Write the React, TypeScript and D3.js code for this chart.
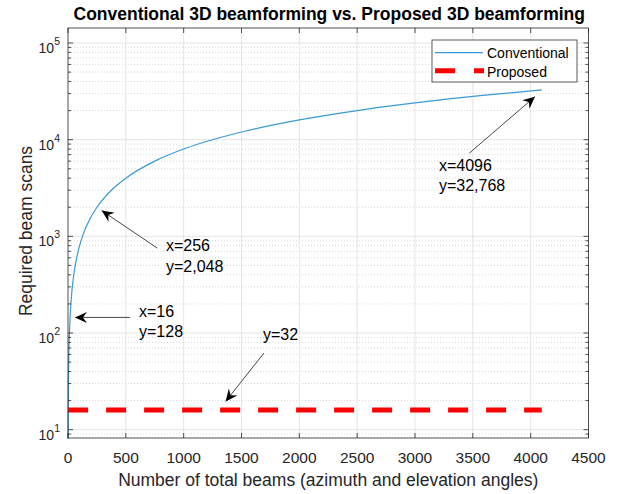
import { useEffect, useRef } from "react";
import * as d3 from "d3";

// values
const convBeams = [1, 2, 4, 8, 16, 32, 48, 64, 96, 128, 192, 256, 384, 512, 768, 1024, 1536, 2048, 2560, 3072, 3584, 4096];
const convScans = [8, 16, 32, 64, 128, 256, 384, 512, 768, 1024, 1536, 2048, 3072, 4096, 6144, 8192, 12288, 16384, 20480, 24576, 28672, 32768];
const propBeams = [1, 4096];
const propScans = [16, 16];

const xTicks = [0, 500, 1000, 1500, 2000, 2500, 3000, 3500, 4000, 4500];
const yExponents = [1, 2, 3, 4, 5];

const legendLabels = ["Conventional", "Proposed"];

// annotation arrows: tip / tail / text anchor in data units
const notes = [
  { tip: [291, 1849], tail: [772, 755], at: [847, 697], lines: ["x=256", "y=2,048"] },
  { tip: [60, 145], tail: [536, 145], at: [614, 148], lines: ["x=16", "y=128"] },
  { tip: [1363, 19.6], tail: [1694, 62], at: [1686, 85], lines: ["y=32"] },
  { tip: [4037, 27860], tail: [3469, 7244], at: [3207, 4786], lines: ["x=4096", "y=32,768"] },
];

const W = 622;
const H = 494;
const m = { l: 68, r: 33.5, t: 28, b: 56 };
const FONT = "'Liberation Sans', Arial, Helvetica, sans-serif";
const AX = "#262626";

const App = () => {
  const svgRef = useRef(null);

  useEffect(() => {
    const svg = d3.select(svgRef.current);
    svg.selectAll("*").remove();

    const x0 = m.l, x1 = W - m.r, y0 = H - m.b, y1 = m.t;
    const xScale = d3.scaleLinear().domain([0, 4500]).range([x0, x1]);
    const yScale = d3.scaleLog().domain([8.2, 1.43e5]).range([y0, y1]);

    svg.append("rect").attr("x", x0).attr("y", y1).attr("width", x1 - x0).attr("height", y0 - y1).attr("fill", "white");

    // minor grid (dotted)
    const minors: number[] = [];
    for (let d = 0; d <= 5; d++)
      for (let k = 2; k <= 9; k++) {
        const v = k * Math.pow(10, d);
        if (v > 8.2 && v < 1.43e5) minors.push(v);
      }
    const grid = svg.append("g");
    grid.selectAll(".mg").data(minors).join("line")
      .attr("x1", x0).attr("x2", x1)
      .attr("y1", (d) => yScale(d)).attr("y2", (d) => yScale(d))
      .attr("stroke", "#c8c8c8").attr("stroke-width", 0.7).attr("stroke-dasharray", "1 2");
    // major grid
    grid.selectAll(".gy").data(yExponents).join("line")
      .attr("x1", x0).attr("x2", x1)
      .attr("y1", (d) => yScale(Math.pow(10, d))).attr("y2", (d) => yScale(Math.pow(10, d)))
      .attr("stroke", "#dedede").attr("stroke-width", 0.8);
    grid.selectAll(".gx").data(xTicks.slice(1, -1)).join("line")
      .attr("x1", (d) => xScale(d)).attr("x2", (d) => xScale(d))
      .attr("y1", y0).attr("y2", y1)
      .attr("stroke", "#dedede").attr("stroke-width", 0.8);

    // series
    const line = d3.line<number>()
      .x((d, i) => xScale(convBeams[i]))
      .y((d) => yScale(d))
      .curve(d3.curveMonotoneX);
    svg.append("path").attr("d", line(convScans))
      .attr("fill", "none").attr("stroke", "#3a9ad6").attr("stroke-width", 1.2);

    const pline = d3.line<number>()
      .x((d, i) => xScale(propBeams[i]))
      .y((d) => yScale(d));
    svg.append("path").attr("d", pline(propScans))
      .attr("fill", "none").attr("stroke", "#ff0000").attr("stroke-width", 5)
      .attr("stroke-dasharray", "20 18");

    // axes box + ticks
    const ax = svg.append("g").attr("stroke", AX).attr("stroke-width", 0.8);
    ax.append("rect").attr("x", x0).attr("y", y1).attr("width", x1 - x0).attr("height", y0 - y1).attr("fill", "none");
    xTicks.forEach((t) => {
      const px = xScale(t);
      ax.append("line").attr("x1", px).attr("x2", px).attr("y1", y0).attr("y2", y0 - 5);
      ax.append("line").attr("x1", px).attr("x2", px).attr("y1", y1).attr("y2", y1 + 5);
    });
    yExponents.forEach((e) => {
      const py = yScale(Math.pow(10, e));
      ax.append("line").attr("x1", x0).attr("x2", x0 + 5).attr("y1", py).attr("y2", py);
      ax.append("line").attr("x1", x1).attr("x2", x1 - 5).attr("y1", py).attr("y2", py);
    });
    minors.forEach((v) => {
      const py = yScale(v);
      ax.append("line").attr("x1", x0).attr("x2", x0 + 3).attr("y1", py).attr("y2", py);
      ax.append("line").attr("x1", x1).attr("x2", x1 - 3).attr("y1", py).attr("y2", py);
    });

    // tick labels
    svg.append("g").selectAll("text").data(xTicks).join("text")
      .attr("x", (d) => xScale(d)).attr("y", y0 + 25)
      .attr("text-anchor", "middle").attr("font-family", FONT).attr("font-size", 15.5).attr("fill", AX)
      .text((d) => d);
    const yl = svg.append("g").selectAll("text").data(yExponents).join("text")
      .attr("x", x0 - 8).attr("y", (d) => yScale(Math.pow(10, d)) + 10)
      .attr("text-anchor", "end").attr("font-family", FONT).attr("font-size", 14).attr("fill", AX);
    yl.append("tspan").text("10");
    yl.append("tspan").attr("dy", -8).attr("font-size", 10.5).text((d) => d);

    // axis labels + title
    svg.append("text").attr("x", (x0 + x1) / 2).attr("y", y0 + 48)
      .attr("text-anchor", "middle").attr("font-family", FONT).attr("font-size", 17.5).attr("fill", AX)
      .text("Number of total beams (azimuth and elevation angles)");
    svg.append("text").attr("transform", `translate(32,${(y0 + y1) / 2 - 2}) rotate(-90)`)
      .attr("text-anchor", "middle").attr("font-family", FONT).attr("font-size", 17.5).attr("fill", AX)
      .text("Required beam scans");
    svg.append("text").attr("x", (x0 + x1) / 2 + 1).attr("y", 20)
      .attr("text-anchor", "middle").attr("font-family", FONT).attr("font-size", 17.5)
      .attr("font-weight", "bold").attr("fill", "#000")
      .text("Conventional 3D beamforming vs. Proposed 3D beamforming");

    // annotations
    const an = svg.append("g");
    notes.forEach((n) => {
      const tx = xScale(n.tip[0]), ty = yScale(n.tip[1]);
      const sx = xScale(n.tail[0]), sy = yScale(n.tail[1]);
      const ang = (Math.atan2(ty - sy, tx - sx) * 180) / Math.PI;
      an.append("line").attr("x1", sx).attr("y1", sy).attr("x2", tx).attr("y2", ty)
        .attr("stroke", "#333").attr("stroke-width", 0.9);
      an.append("path").attr("d", "M0,0 L-12,-5.5 L-8,0 L-12,5.5 Z")
        .attr("transform", `translate(${tx},${ty}) rotate(${ang})`).attr("fill", "#000");
      n.lines.forEach((s, i) => {
        an.append("text").attr("x", xScale(n.at[0])).attr("y", yScale(n.at[1]) + i * 20.5)
          .attr("font-family", FONT).attr("font-size", 16).attr("fill", "#000").text(s);
      });
    });

    // legend
    const lg = svg.append("g");
    lg.append("rect").attr("x", 432).attr("y", 40).attr("width", 145).attr("height", 42)
      .attr("fill", "white").attr("stroke", "#333").attr("stroke-width", 0.8);
    lg.append("line").attr("x1", 435).attr("x2", 483).attr("y1", 52.7).attr("y2", 52.7)
      .attr("stroke", "#3a9ad6").attr("stroke-width", 1.2);
    lg.append("line").attr("x1", 435).attr("x2", 484).attr("y1", 70.7).attr("y2", 70.7)
      .attr("stroke", "#ff0000").attr("stroke-width", 5).attr("stroke-dasharray", "20 19");
    legendLabels.forEach((s, i) => {
      lg.append("text").attr("x", 487).attr("y", 58 + i * 18.8)
        .attr("font-family", FONT).attr("font-size", 14).attr("fill", "#000").text(s);
    });
  }, []);

  return (
    <svg ref={svgRef} width={W} height={H}
      style={{ position: "absolute", left: 0, top: 0, background: "white" }}></svg>
  );
};

export default App;
